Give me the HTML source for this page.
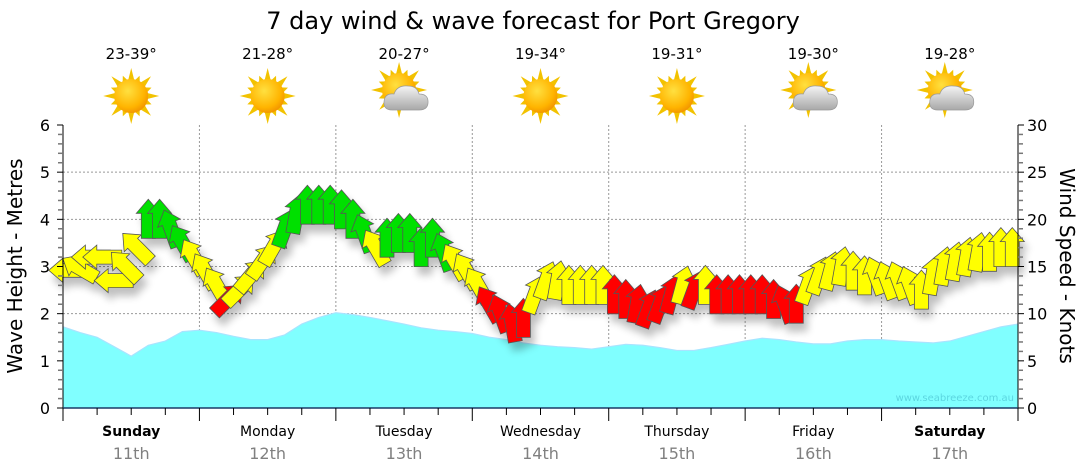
<!DOCTYPE html>
<html><head><meta charset="utf-8">
<style>
body{margin:0;background:#fff;width:1080px;height:475px;overflow:hidden}
svg{display:block;font-family:"DejaVu Sans","Liberation Sans",sans-serif}
</style></head><body>
<svg id="chart" width="1080" height="475" viewBox="0 0 1080 475" xmlns="http://www.w3.org/2000/svg">
<defs>
<radialGradient id="sunG" cx="0.4" cy="0.35" r="0.7"><stop offset="0" stop-color="#ffe040"/><stop offset="0.7" stop-color="#ffb400"/><stop offset="1" stop-color="#f09000"/></radialGradient>
<linearGradient id="cloudG" x1="0" y1="0" x2="0" y2="1"><stop offset="0" stop-color="#f4f4f4"/><stop offset="1" stop-color="#a8a8a8"/></linearGradient>
<filter id="shadow" x="-50%" y="-50%" width="200%" height="200%"><feGaussianBlur in="SourceAlpha" stdDeviation="4"/><feOffset dx="4" dy="8"/><feComponentTransfer><feFuncA type="linear" slope="0.25"/></feComponentTransfer><feMerge><feMergeNode/><feMergeNode in="SourceGraphic"/></feMerge></filter>
</defs>
<text x="533" y="29" font-size="24" text-anchor="middle" fill="#000">7 day wind &amp; wave forecast for Port Gregory</text>
<g id="grid"></g>
<g id="wave"></g>
<text x="1014" y="401" font-size="10" text-anchor="end" fill="#5cd6e0">www.seabreeze.com.au</text>
<g id="arrows" filter="url(#shadow)"></g>
<g id="axes"></g>
<g id="icons"></g>
<text transform="translate(22,266) rotate(-90)" font-size="20" text-anchor="middle">Wave Height - Metres</text>
<text transform="translate(1060,266) rotate(90)" font-size="20" text-anchor="middle">Wind Speed - Knots</text>
</svg>
<script>
const days=["Sunday","Monday","Tuesday","Wednesday","Thursday","Friday","Saturday"];
const dates=["11th","12th","13th","14th","15th","16th","17th"];
const temps=["23-39°","21-28°","20-27°","19-34°","19-31°","19-30°","19-28°"];
const cloudy=[0,0,1,0,0,1,1];
const waveHeights=[1.72,1.6,1.5,1.3,1.1,1.33,1.42,1.62,1.65,1.6,1.52,1.45,1.45,1.55,1.78,1.92,2.02,1.98,1.92,1.85,1.78,1.7,1.65,1.62,1.58,1.5,1.45,1.38,1.33,1.3,1.28,1.25,1.3,1.35,1.33,1.28,1.22,1.22,1.28,1.35,1.42,1.48,1.45,1.4,1.36,1.36,1.42,1.45,1.45,1.42,1.4,1.38,1.42,1.52,1.62,1.72,1.78];
const windKnots=[14.6,14.8,16,16,13.5,15,17,20,20,19,17.5,16,14.5,13,11.5,12.5,14,15.5,17,19,20.5,21.5,21.5,21.5,21,20,18.5,17,18,18.5,18.5,17,18,16.5,15.5,14.5,13,11,10,9,9.5,12,13.5,13.5,13,13,13,13,12,11.5,11,10.5,11,12,13,12.5,13,12,12,12,12,12,11.5,11,11,13,14,14.5,15,14.5,14,14,13.5,13.5,13,12.5,14,15,15.5,16,16.5,16.5,17,17];
const windDir=[270,300,270,270,270,315,315,0,0,340,330,330,330,330,45,45,40,35,30,20,10,0,0,0,0,0,340,330,0,0,0,0,0,340,330,330,330,330,340,350,0,20,20,10,0,0,0,0,0,0,10,20,20,15,15,20,0,0,0,0,0,0,0,340,0,20,20,15,10,0,0,340,340,340,340,0,10,10,10,10,10,0,0,0];
const windCat="yyyyyyyggggyyyryyyyggggggggyggggggyyyrrrryyyyyyyrrrrrryryrrrrrrrryyyyyyyyyyyyyyyyyyy";
const leftTicks=[0,1,2,3,4,5,6];
const rightTicks=[0,5,10,15,20,25,30];

const NS="http://www.w3.org/2000/svg";
const X0=63,X1=1018,Y0=408,Y1=125;
const xDay=d=>X0+(X1-X0)*d/7;
const yM=v=>Y0-(Y0-Y1)*v/6;
const yK=v=>Y0-(Y0-Y1)*v/30;
function mk(tag,attrs,parent){const e=document.createElementNS(NS,tag);for(const k in attrs)e.setAttribute(k,attrs[k]);parent.appendChild(e);return e;}
const grid=document.getElementById('grid'),axes=document.getElementById('axes'),wave=document.getElementById('wave'),arrows=document.getElementById('arrows'),icons=document.getElementById('icons');
leftTicks.forEach(t=>{if(t>0&&t<6){const l=mk('line',{x1:X0,x2:X1,y1:yM(t),y2:yM(t),stroke:'#999','stroke-dasharray':'2,2','stroke-width':1},grid);}});
for(let d=1;d<7;d++){const l=mk('line',{x1:xDay(d),x2:xDay(d),y1:Y1,y2:Y0,stroke:'#999','stroke-dasharray':'2,2','stroke-width':1},grid);}
let pts=waveHeights.map((v,i)=>[X0+(X1-X0)*i/(waveHeights.length-1),yM(v)]);
let dpath='M'+X0+','+Y0+' '+pts.map(p=>'L'+p[0].toFixed(1)+','+p[1].toFixed(1)).join(' ')+' L'+X1+','+Y0+'Z';
const wa=mk('path',{d:dpath,fill:'#80ffff',stroke:'none'},wave);


const wl=mk('polyline',{points:pts.map(p=>p.join(',')).join(' '),fill:'none',stroke:'#a8e4ff','stroke-width':1.2},wave);


const cols={y:'#ffff00',g:'#00e000',r:'#ff0000'};
const N=windKnots.length;
for(let i=0;i<N;i++){
 const x=X0+(X1-X0)*(i+0.5)/N,y=yK(windKnots[i]);
 const a=mk('polygon',{points:'0,-20 12,-6 7,-6 7,19 -7,19 -7,-6 -12,-6',fill:cols[windCat[i]],stroke:'#555','stroke-width':0.8,transform:`translate(${x.toFixed(1)},${y.toFixed(1)}) rotate(${windDir[i]})`},arrows);
 
 
}
mk('line',{x1:X0,x2:X0,y1:Y1,y2:Y0+1,stroke:'#000'},axes);
mk('line',{x1:X1,x2:X1,y1:Y1,y2:Y0+1,stroke:'#000'},axes);
mk('line',{x1:X0,x2:X1,y1:Y0,y2:Y0,stroke:'#1a3a66','stroke-width':1.5},axes);
for(let v=0;v<=6.001;v+=0.2){const y=yM(v);const maj=Math.abs(v-Math.round(v))<0.01;mk('line',{x1:X0-(maj?6:5),x2:X0,y1:y,y2:y,stroke:maj?'#000':'#777','stroke-width':maj?1:1.5},axes);}
for(let v=0;v<=30;v+=1){const y=yK(v);const maj=v%5==0;mk('line',{x1:X1,x2:X1+(maj?6:5),y1:y,y2:y,stroke:maj?'#000':'#777','stroke-width':maj?1:1.5},axes);}
leftTicks.forEach(t=>{const e=mk('text',{x:50,y:yM(t)+6,'font-size':16,'text-anchor':'end'},axes);e.textContent=t;});
rightTicks.forEach(t=>{const e=mk('text',{x:1027,y:yK(t)+6,'font-size':16,'text-anchor':'start'},axes);e.textContent=t;});
for(let q=0;q<=28;q++){const x=X0+(X1-X0)*q/28;mk('line',{x1:x,x2:x,y1:Y0,y2:Y0+(q%4==0?13:7),stroke:'#000'},axes);}
days.forEach((d,i)=>{const cx=(xDay(i)+xDay(i+1))/2;
 const t=mk('text',{x:cx,y:436,'font-size':14,'text-anchor':'middle','font-weight':(i==0||i==6)?'bold':'normal'},axes);t.textContent=d;
 const s=mk('text',{x:cx,y:459,'font-size':16,'text-anchor':'middle',fill:'#808080'},axes);s.textContent=dates[i];
 const tp=mk('text',{x:cx,y:59,'font-size':15,'text-anchor':'middle'},icons);tp.textContent=temps[i];
 const g=mk('g',{transform:`translate(${cx},96)`},icons);
 const ox=cloudy[i]?-5:0,oy=cloudy[i]?-6:0;
 for(let k=0;k<16;k++){const ang=k*22.5*Math.PI/180;const L=(k%2==0)?28:22;const w=3.5;
  const tx=ox+Math.sin(ang)*L,ty=oy-Math.cos(ang)*L;const bx=Math.cos(ang)*w,by=Math.sin(ang)*w;
  const r15=14;mk('polygon',{points:`${(tx).toFixed(1)},${ty.toFixed(1)} ${(ox+Math.sin(ang)*r15+bx).toFixed(1)},${(oy-Math.cos(ang)*r15+by).toFixed(1)} ${(ox+Math.sin(ang)*r15-bx).toFixed(1)},${(oy-Math.cos(ang)*r15-by).toFixed(1)}`,fill:'#f2c200'},g);}
 mk('circle',{cx:ox,cy:oy,r:17,fill:'url(#sunG)'},g);
 if(cloudy[i]){mk('path',{d:'M-12,14 Q-21,14 -20,5 Q-19,-3 -10,-2 Q-7,-11 4,-10 Q13,-10 15,-2 Q24,-2 24,6 Q24,14 15,14 Z',fill:'url(#cloudG)',stroke:'#999','stroke-width':0.7},g);}
});
</script>
</body></html>
